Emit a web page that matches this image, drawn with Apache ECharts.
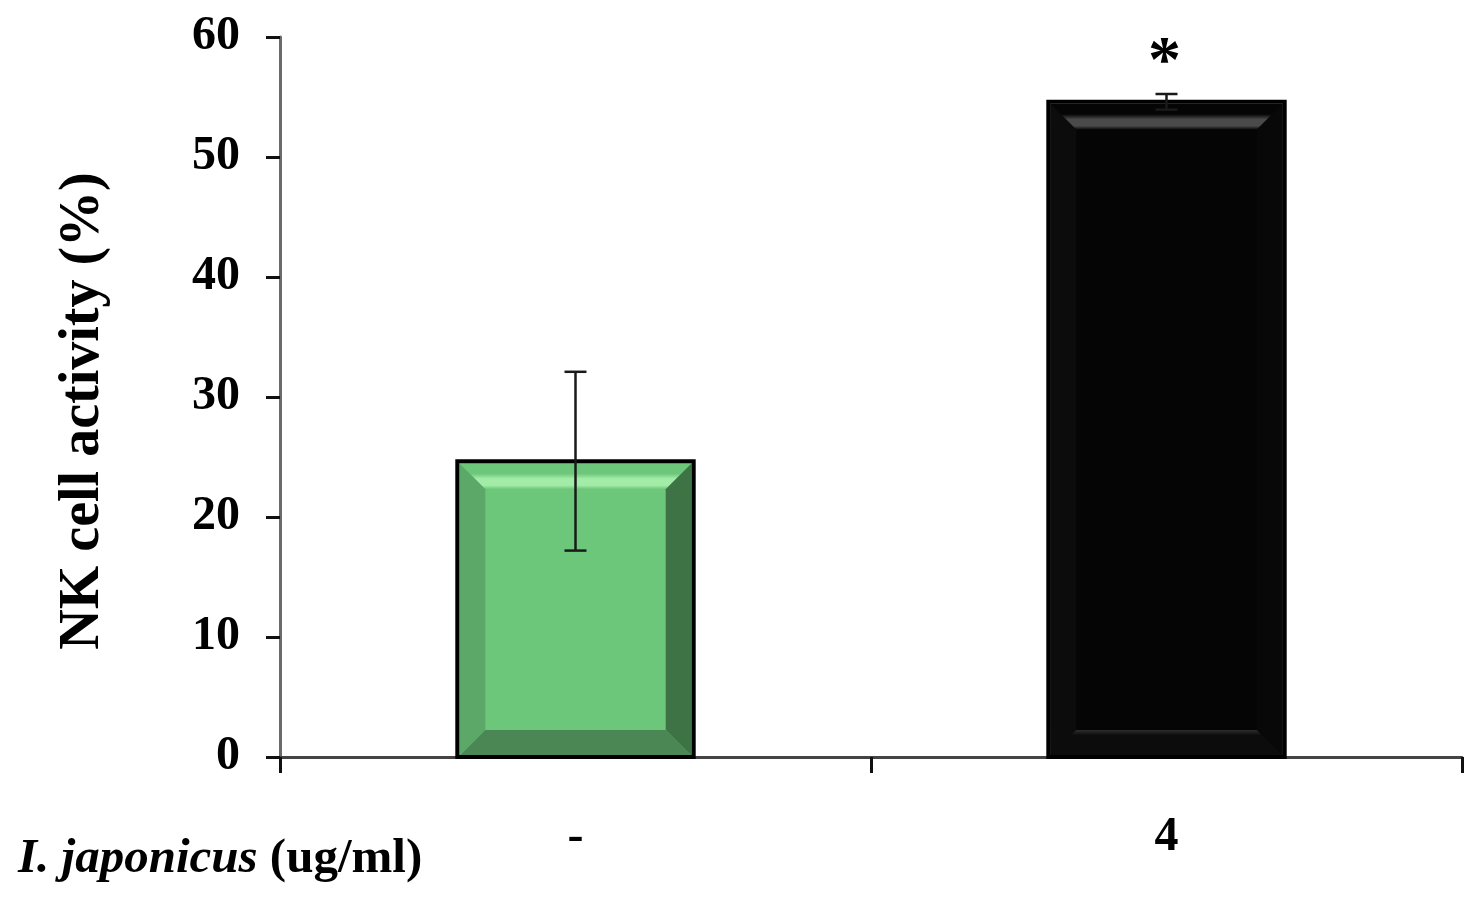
<!DOCTYPE html>
<html>
<head>
<meta charset="utf-8">
<script src="https://cdn.jsdelivr.net/npm/echarts@6/dist/echarts.min.js"></script>
<style>
html,body{margin:0;padding:0;background:#fff;}
#chart{width:1483px;height:908px;}
</style>
</head>
<body>
<div id="chart"></div>
<script>
// ---- data ----
var categories = ['-', '4'];
var means = [24.65, 54.6];
var errors = [7.45, 0.65];
var significance = ['', '*'];
var yTicks = [0, 10, 20, 30, 40, 50, 60];

// ---- styles (per bar) ----
var barStyles = [
  {face:'#6cc77a', left:'#5ba868', right:'#3e7346', bottom:'#4a8754', bottomStripe:'#4a8754', topBase:'#6cc77a', topStripe:'#a2eca7'},
  {face:'#050505', left:'#0c0c0c', right:'#080808', bottom:'#0c0c0c', bottomStripe:'#2e2e2e', topBase:'#050505', topStripe:'#4a4a4a'}
];

var SERIF = '"Liberation Serif","DejaVu Serif",serif';

function renderBar(params, api) {
  var i = params.dataIndex;
  var cat = api.value(0), v = api.value(1);
  var top = api.coord([cat, v]);
  var base = api.coord([cat, 0]);
  var band = api.size([1, 0])[0];
  var w = band * 0.40;
  var x0 = top[0] - w / 2, x1 = top[0] + w / 2, y0 = top[1], y1 = base[1];
  var s = barStyles[i];
  var ix0 = x0 + 2, ix1 = x1 - 2, iy0 = y0 + 2, iy1 = y1 - 1;
  var b = 26;
  var children = [
    {type:'rect', shape:{x:ix0, y:iy0, width:ix1-ix0, height:iy1-iy0}, style:{fill:s.face}},
    {type:'polygon', shape:{points:[[ix0,iy0],[ix1,iy0],[ix1-b,iy0+b],[ix0+b,iy0+b]]},
      style:{fill:{type:'linear',x:0,y:0,x2:0,y2:1,colorStops:[
        {offset:0,color:s.topBase},{offset:0.4,color:s.topBase},{offset:0.6,color:s.topStripe},{offset:0.85,color:s.topStripe},{offset:1,color:s.face}]}}},
    {type:'polygon', shape:{points:[[ix0,iy0],[ix0+b,iy0+b],[ix0+b,iy1-b],[ix0,iy1]]}, style:{fill:s.left}},
    {type:'polygon', shape:{points:[[ix1,iy0],[ix1,iy1],[ix1-b,iy1-b],[ix1-b,iy0+b]]}, style:{fill:s.right}},
    {type:'polygon', shape:{points:[[ix0,iy1],[ix1,iy1],[ix1-b,iy1-b],[ix0+b,iy1-b]]},
      style:{fill:{type:'linear',x:0,y:0,x2:0,y2:1,colorStops:[
        {offset:0,color:s.bottomStripe},{offset:0.2,color:s.bottom},{offset:1,color:s.bottom}]}}},
    {type:'rect', shape:{x:x0, y:y0, width:x1-x0, height:y1-y0}, style:{fill:'none', stroke:'#000', lineWidth:4}}
  ];
  return {type:'group', children:children};
}

function renderErr(params, api) {
  var i = params.dataIndex;
  var cat = api.value(0), v = api.value(1), e = api.value(2);
  var hi = api.coord([cat, v + e]);
  var lo = api.coord([cat, v - e]);
  var cap = 11;
  var st = {stroke:'#1a1a1a', lineWidth:2.5};
  var children = [
    {type:'line', shape:{x1:hi[0], y1:hi[1], x2:lo[0], y2:lo[1]}, style:st},
    {type:'line', shape:{x1:hi[0]-cap, y1:hi[1], x2:hi[0]+cap, y2:hi[1]}, style:st},
    {type:'line', shape:{x1:lo[0]-cap, y1:lo[1], x2:lo[0]+cap, y2:lo[1]}, style:st}
  ];
  if (significance[i]) {
    children.push({type:'text', x:hi[0]-2, y:hi[1]-30,
      style:{text:significance[i], font:'bold 66px ' + SERIF, fill:'#000', align:'center', verticalAlign:'middle'}});
  }
  return {type:'group', children:children};
}

var barData = categories.map(function(c, i){ return [i, means[i]]; });
var errData = categories.map(function(c, i){ return [i, means[i], errors[i]]; });

var chart = echarts.init(document.getElementById('chart'));
chart.setOption({
  animation:false,
  backgroundColor:'#fff',
  grid:{left:280, right:21, top:37, bottom:151, containLabel:false},
  xAxis:{
    type:'category', data:categories, boundaryGap:true,
    axisLine:{lineStyle:{color:'#444', width:3}},
    axisTick:{show:true, alignWithLabel:false, length:16, lineStyle:{color:'#111', width:3}},
    axisLabel:{margin:57, color:'#000', fontFamily:SERIF, fontWeight:'bold', fontSize:48},
    splitLine:{show:false}
  },
  yAxis:{
    type:'value', min:yTicks[0], max:yTicks[yTicks.length-1], interval:yTicks[1]-yTicks[0],
    axisLine:{show:true, lineStyle:{color:'#6a6a6a', width:3}},
    axisTick:{show:true, length:14, lineStyle:{color:'#111', width:3}},
    axisLabel:{margin:40, color:'#000', fontFamily:SERIF, fontWeight:'bold', fontSize:48},
    splitLine:{show:false}
  },
  graphic:[
    {type:'text', x:84, y:411, rotation:Math.PI/2,
      style:{text:'NK cell activity (%)', font:'bold 56px ' + SERIF, fill:'#000', align:'center', verticalAlign:'middle'}},
    {type:'text', left:18, top:835,
      style:{rich:{
        it:{fontFamily:SERIF, fontWeight:'bold', fontStyle:'italic', fontSize:49, fill:'#000', color:'#000'},
        rg:{fontFamily:SERIF, fontWeight:'bold', fontSize:49, fill:'#000', color:'#000'}
      }, text:'{it|I. japonicus\u00a0}{rg|(ug/ml)}'}}
  ],
  series:[
    {type:'custom', renderItem:renderBar, data:barData, z:2},
    {type:'custom', renderItem:renderErr, data:errData, z:3}
  ]
});
</script>
</body>
</html>
